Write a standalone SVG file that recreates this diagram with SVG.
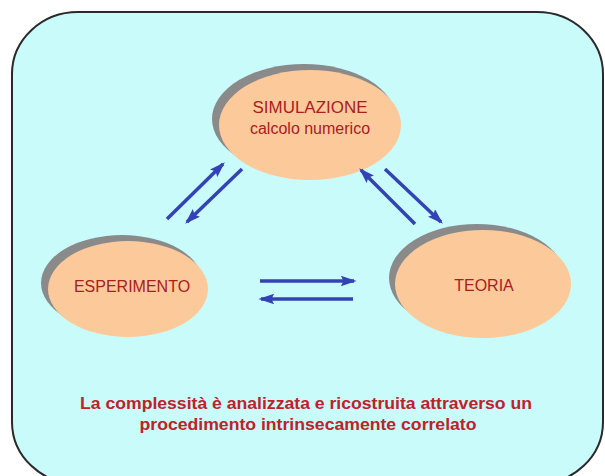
<svg xmlns="http://www.w3.org/2000/svg" width="605" height="476" viewBox="0 0 605 476">
<style>
.shadow{fill:#8a8a8a}
.node{fill:#FCC99B}
.lbl{font-family:"Liberation Sans",Arial,sans-serif;font-size:16px;fill:#A8201E;text-anchor:middle}
.note{font-family:"Liberation Sans",Arial,sans-serif;font-size:16px;font-weight:bold;fill:#C0202A;text-anchor:middle}
.arr{stroke:#3342B4;stroke-width:3.5;fill:none;marker-end:url(#ah)}
</style>
<defs>
<marker id="ah" viewBox="0 0 12 8" refX="10" refY="4" markerWidth="4.5" markerHeight="3" orient="auto" markerUnits="strokeWidth">
<path d="M0,0 L12,4 L0,8 L2,4 Z" fill="#3342B4"/>
</marker>
</defs>
<rect x="0" y="0" width="605" height="476" fill="#ffffff"/>
<rect x="12" y="12" width="591" height="472" rx="66" ry="62" fill="#C9FBFB" stroke="#2a2a2a" stroke-width="2"/>
<g id="simulazione">
<ellipse class="shadow" cx="304" cy="119" rx="92" ry="55"/>
<ellipse class="node" cx="310" cy="125" rx="91" ry="55"/>
<text class="lbl" x="310" y="113" textLength="115" lengthAdjust="spacingAndGlyphs">SIMULAZIONE</text>
<text class="lbl" x="310" y="134">calcolo numerico</text>
</g>
<g id="esperimento">
<ellipse class="shadow" cx="122" cy="283" rx="81" ry="48"/>
<ellipse class="node" cx="128" cy="289" rx="80" ry="48"/>
<text class="lbl" x="132" y="292">ESPERIMENTO</text>
</g>
<g id="teoria">
<ellipse class="shadow" cx="477" cy="278" rx="88" ry="54"/>
<ellipse class="node" cx="483" cy="284" rx="88" ry="54"/>
<text class="lbl" x="484" y="291">TEORIA</text>
</g>
<g id="connectors">
<line class="arr" x1="167" y1="219" x2="223" y2="164"/>
<line class="arr" x1="242" y1="169" x2="187" y2="222"/>
<line class="arr" x1="415" y1="224" x2="361" y2="170"/>
<line class="arr" x1="385" y1="169" x2="441" y2="222"/>
<line class="arr" x1="260" y1="281" x2="354" y2="281"/>
<line class="arr" x1="353" y1="299" x2="261" y2="299"/>
</g>
<text class="note" x="306" y="409" textLength="452" lengthAdjust="spacingAndGlyphs">La complessità è analizzata e ricostruita attraverso un</text>
<text class="note" x="308" y="430" textLength="337" lengthAdjust="spacingAndGlyphs">procedimento intrinsecamente correlato</text>
</svg>
